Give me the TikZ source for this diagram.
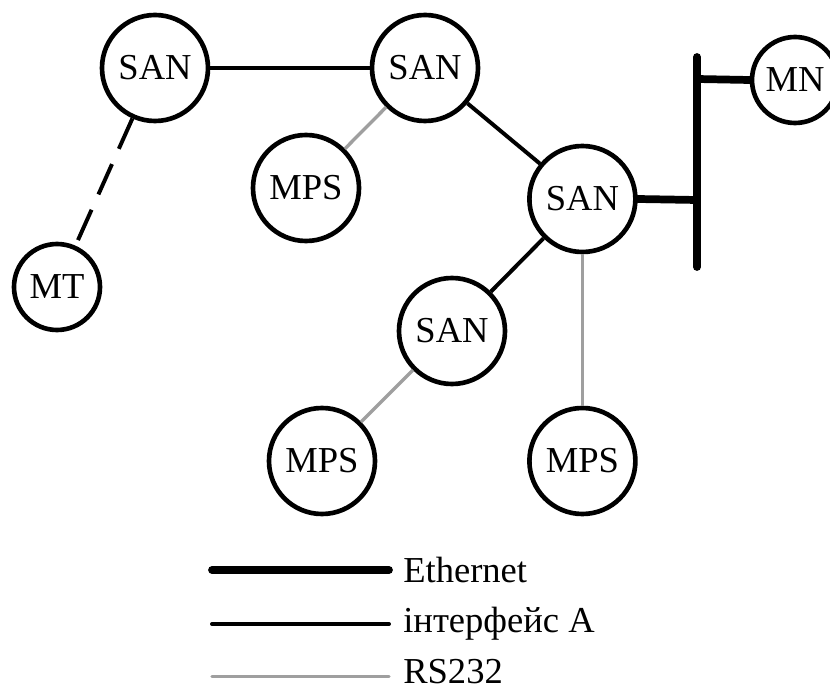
\documentclass[tikz,border=0pt]{standalone}
\usepackage{fontspec}
\setmainfont{Liberation Serif}
\begin{document}
\begin{tikzpicture}[
    unit/.style={circle, draw, line width=3.3pt, minimum size=2.65cm, inner sep=0pt,
      font=\fontsize{26}{31}\selectfont},
    small/.style={unit, minimum size=2.15cm},
    eth/.style={line width=5.5pt, line cap=round},
    iface/.style={line width=2.8pt},
    rs/.style={line width=2.4pt, color=gray!75},
    legtext/.style={anchor=west, inner sep=0pt, font=\fontsize{26}{31}\selectfont}
  ]
  \useasboundingbox (0,0) rectangle (20.75,17.25);
  % stations
  \node[unit] (san1) at (3.875,15.55) {SAN};
  \node[unit] (san2) at (10.625,15.55) {SAN};
  \node[unit] (mps1) at (7.65,12.55) {MPS};
  \node[small] (mt) at (1.425,10.075) {MT};
  \node[unit] (san3) at (14.56,12.275) {SAN};
  \node[small] (mn) at (19.875,15.25) {MN};
  \node[unit] (san4) at (11.3,8.975) {SAN};
  \node[unit] (mps2) at (8.05,5.725) {MPS};
  \node[unit] (mps3) at (14.56,5.725) {MPS};
  % ethernet bus
  \coordinate (bustop) at (17.425,15.825);
  \coordinate (busbot) at (17.425,10.575);
  \coordinate (busmn) at (17.425,15.275);
  \coordinate (bussan) at (17.425,12.25);
  \draw[eth] (bustop) -- (busbot);
  \draw[eth] (busmn) -- (mn.west);
  \draw[eth] (bussan) -- (san3.east);
  % links
  \draw[iface] (san1) -- (san2);
  \draw[iface] (san2) -- (san3);
  \draw[iface] (san3) -- (san4);
  \draw[iface, dash pattern=on 0.83cm off 0.42cm] (san1) -- (mt);
  \draw[rs] (san2) -- (mps1);
  \draw[rs] (san4) -- (mps2);
  \draw[rs] (san3.south) -- (mps3.north);
  % legend
  \coordinate (l1a) at (5.3,3.0);
  \coordinate (l1b) at (9.725,3.0);
  \coordinate (l2a) at (5.3,1.65);
  \coordinate (l2b) at (9.725,1.65);
  \coordinate (l3a) at (5.3,0.33);
  \coordinate (l3b) at (9.725,0.33);
  \draw[eth] (l1a) -- (l1b);
  \draw[iface, line cap=round] (l2a) -- (l2b);
  \draw[rs, line cap=round] (l3a) -- (l3b);
  \node[legtext] (t1) at (10.075,3.0) {Ethernet};
  \node[legtext] (t2) at (10.075,1.65) {інтерфейс A};
  \node[legtext] (t3) at (10.075,0.45) {RS232};
\end{tikzpicture}
\end{document}
